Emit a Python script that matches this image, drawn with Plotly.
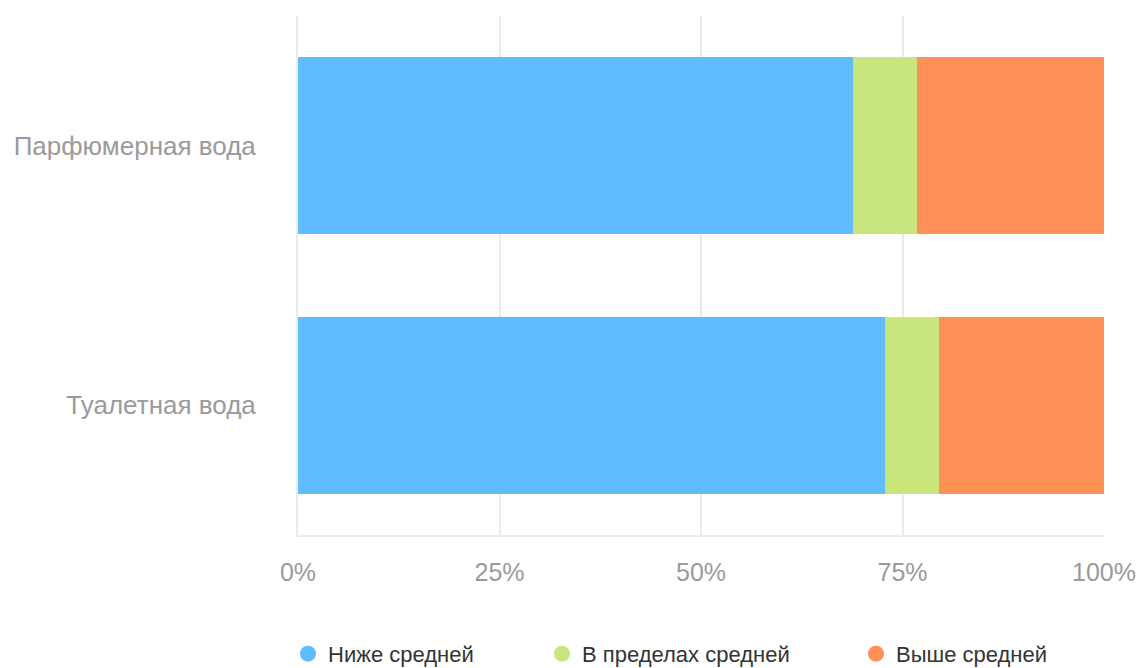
import plotly.graph_objects as go

categories = ["Парфюмерная вода", "Туалетная вода"]
series_names = ["Ниже средней", "В пределах средней", "Выше средней"]
below = [68.9, 72.8]
within = [7.9, 6.7]
above = [23.2, 20.5]
colors = ["#5fbcff", "#c8e67c", "#ff9055"]
tick_vals = [0, 25, 50, 75, 100]
tick_text = ["0%", "25%", "50%", "75%", "100%"]

font_family = "Liberation Sans, Arial, sans-serif"

fig = go.Figure()
values = [below, within, above]
legend_ids = ["legend", "legend2", "legend3"]
for name, vals, col, lg in zip(series_names, values, colors, legend_ids):
    fig.add_trace(go.Bar(
        y=categories, x=vals, name=name, orientation="h",
        marker=dict(color=col, line=dict(width=0)),
        showlegend=False,
    ))
    fig.add_trace(go.Scatter(
        x=[None], y=[None], mode="markers", name=name,
        marker=dict(color=col, size=20, symbol="circle"),
        legend=lg, showlegend=True,
    ))

L, R, T, B = 298, 36, 16, 133
W, H = 1140, 668
pw = W - L - R

def px2paper(px):
    return (px - L) / pw

leg_common = dict(orientation="h", yanchor="middle", xanchor="left",
                  y=-0.229, font=dict(size=22, color="#333333", family=font_family),
                  bgcolor="rgba(0,0,0,0)")
fig.update_layout(
    barmode="stack",
    bargap=0.317,
    width=W, height=H,
    margin=dict(l=L, r=R, t=T, b=B, autoexpand=False),
    plot_bgcolor="white", paper_bgcolor="white",
    font=dict(family=font_family),
    legend=dict(x=px2paper(288), **leg_common),
    legend2=dict(x=px2paper(542), **leg_common),
    legend3=dict(x=px2paper(856), **leg_common),
    xaxis=dict(
        range=[0, 100], tickvals=tick_vals, ticktext=tick_text,
        showgrid=True, gridcolor="#ebebeb", gridwidth=2,
        zeroline=False, showline=True, linecolor="#ebebeb", linewidth=2,
        ticks="outside", ticklen=14, tickcolor="rgba(0,0,0,0)",
        tickfont=dict(size=25, color="#9a9a9a", family=font_family),
        fixedrange=True, automargin=False,
    ),
    yaxis=dict(
        autorange="reversed", categoryorder="array", categoryarray=categories,
        showgrid=False, zeroline=False, showline=True,
        linecolor="#ebebeb", linewidth=2,
        ticks="outside", ticklen=35, tickcolor="rgba(0,0,0,0)",
        tickfont=dict(size=26, color="#9a9a9a", family=font_family),
        automargin=False, fixedrange=True,
    ),
)

fig.write_html(
    "out.html",
    config={"displayModeBar": False},
    post_script="document.body.style.margin='0';document.body.style.overflow='hidden';",
)
